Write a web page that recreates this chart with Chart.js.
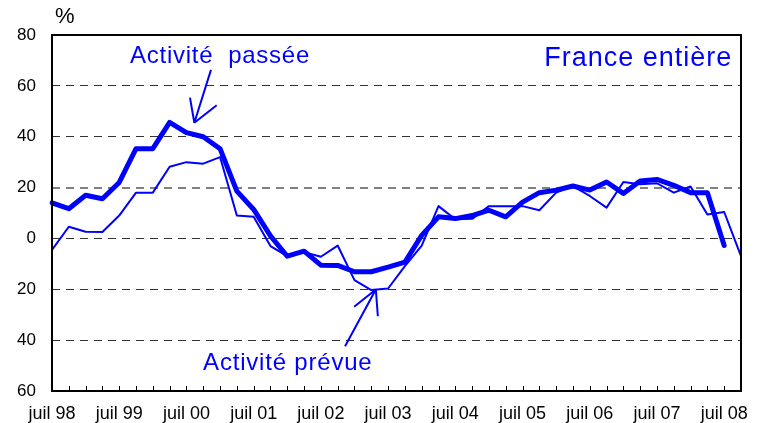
<!DOCTYPE html>
<html>
<head>
<meta charset="utf-8">
<script src="https://cdn.jsdelivr.net/npm/chart.js@4/dist/chart.umd.min.js"></script>
<style>
  html, body { margin: 0; padding: 0; background: #fff; }
  #wrap { width: 763px; height: 423px; position: relative; }
</style>
</head>
<body>
<div id="wrap"><canvas id="chart"></canvas></div>
<script>
// tick labels, one every 4 quarters
var yearLabels = ["juil 98", "juil 99", "juil 00", "juil 01", "juil 02", "juil 03",
    "juil 04", "juil 05", "juil 06", "juil 07", "juil 08"];

// quarterly balances of opinion (%), juil 98 -> oct 08
var activitePassee = [14, 11.7, 17, 15.6, 22, 35.3, 35.3, 45.6, 41.6, 40,
    35.3, 18.6, 11.4, 1, -7, -5, -10.5, -10.6, -13.1, -13.1,
    -11.3, -9.3, 1.2, 8.5, 7.8, 9, 11.1, 8.5, 14.3, 18,
    19, 20.6, 19, 22.2, 17.7, 22.6, 23.2, 20.9, 18, 18,
    -2.8, null];
var activitePrevue = [-4.5, 4.6, 2.6, 2.5, 9, 18, 18, 28.2, 30, 29.4,
    32, 9, 8.5, -3, -7, -5.4, -7.2, -2.8, -16.4, -20.3,
    -19.7, -10.9, -2.8, 12.7, 7.5, 7.7, 12.7, 12.7, 12.7, 11.1,
    18, 20.6, 16.7, 12.1, 22.2, 21.3, 21.7, 18, 20.4, 9.4,
    10.4, -7];

var categories = [];
for (var i = 0; i < activitePrevue.length; i++) {
    categories.push(i % 4 === 0 ? yearLabels[i / 4] : "");
}

var BLUE = "#0000ff";
var FONT = "'Liberation Sans', Arial, sans-serif";

// annotations, in (category index, value) units
var notes = [
    { text: "Activit\u00e9  pass\u00e9e", x: 4.64, y: 68.9, size: 24, spacing: 0.75, align: "left" },
    { text: "France enti\u00e8re", x: 40.48, y: 67.8, size: 27, spacing: 1, align: "right" },
    { text: "Activit\u00e9 pr\u00e9vue", x: 8.99, y: -51.8, size: 24, spacing: 0.8, align: "left" }
];
var arrows = [
    { tail: [9.46, 66.3], tip: [8.47, 45.5], wings: [[8.21, 55.4], [9.80, 52.4]] },
    { tail: [17.44, -42.4], tip: [19.27, -20.1], wings: [[17.98, -26.9], [19.39, -30.6]] }
];

var decorPlugin = {
    id: "decor",
    afterDatasetsDraw: function(chart) {
        var ctx = chart.ctx;
        var a = chart.chartArea;
        var xs = chart.scales.x, ys = chart.scales.y;
        ctx.save();
        // frame
        ctx.strokeStyle = "#000";
        ctx.lineWidth = 2;
        ctx.strokeRect(a.left, a.top, a.right - a.left, a.bottom - a.top);
        // inward ticks on x axis
        ctx.lineWidth = 1;
        for (var i = 0; i < categories.length; i++) {
            var px = Math.round(xs.getPixelForValue(i)) + 0.5;
            ctx.beginPath();
            ctx.moveTo(px, a.bottom);
            ctx.lineTo(px, a.bottom - 5);
            ctx.stroke();
        }
        // % unit
        ctx.fillStyle = "#000";
        ctx.font = "22px " + FONT;
        ctx.textAlign = "left";
        ctx.textBaseline = "alphabetic";
        ctx.fillText("%", a.left + 3, 23);
        // notes
        ctx.fillStyle = BLUE;
        notes.forEach(function(n) {
            ctx.font = n.size + "px " + FONT;
            ctx.letterSpacing = n.spacing + "px";
            ctx.textAlign = n.align;
            ctx.fillText(n.text, xs.getPixelForValue(n.x), ys.getPixelForValue(n.y));
        });
        ctx.letterSpacing = "0px";
        // arrows
        ctx.strokeStyle = BLUE;
        ctx.lineWidth = 2;
        arrows.forEach(function(ar) {
            var tip = [xs.getPixelForValue(ar.tip[0]), ys.getPixelForValue(ar.tip[1])];
            ctx.beginPath();
            ctx.moveTo(xs.getPixelForValue(ar.tail[0]), ys.getPixelForValue(ar.tail[1]));
            ctx.lineTo(tip[0], tip[1]);
            ar.wings.forEach(function(w) {
                ctx.moveTo(xs.getPixelForValue(w[0]), ys.getPixelForValue(w[1]));
                ctx.lineTo(tip[0], tip[1]);
            });
            ctx.stroke();
        });
        ctx.restore();
    }
};

var chart = new Chart(document.getElementById("chart"), {
    type: "line",
    data: {
        labels: categories,
        datasets: [
            {
                label: "Activit\u00e9 pass\u00e9e",
                data: activitePassee,
                borderColor: BLUE,
                borderWidth: 5,
                borderCapStyle: "round",
                borderJoinStyle: "round",
                pointRadius: 0,
                tension: 0,
                fill: false
            },
            {
                label: "Activit\u00e9 pr\u00e9vue",
                data: activitePrevue,
                borderColor: BLUE,
                borderWidth: 2,
                borderJoinStyle: "round",
                pointRadius: 0,
                tension: 0,
                fill: false
            }
        ]
    },
    options: {
        responsive: true,
        maintainAspectRatio: false,
        animation: false,
        layout: { padding: { left: 0, right: 22, top: 35, bottom: 0 } },
        plugins: { legend: { display: false }, tooltip: { enabled: false } },
        scales: {
            x: {
                offset: false,
                grid: { display: false, drawTicks: false },
                border: { display: false },
                ticks: {
                    autoSkip: false,
                    maxRotation: 0,
                    padding: 12,
                    color: "#000",
                    font: { family: FONT, size: 18 }
                },
                afterFit: function(s) { s.height = 32; }
            },
            y: {
                min: -60,
                max: 80,
                grid: {
                    drawTicks: false,
                    lineWidth: function(c) { return c.tick && c.tick.value === 20 ? 2 : 1; },
                    color: function(c) {
                        if (!c.tick) return "#333";
                        var v = c.tick.value;
                        if (v === 80 || v === -60) return "rgba(0,0,0,0)";
                        return v === 20 ? "#808080" : "#333";
                    }
                },
                border: { display: false, dash: [8, 6] },
                ticks: {
                    stepSize: 20,
                    padding: 16,
                    color: "#000",
                    font: { family: FONT, size: 17 },
                    callback: function(v) { return Math.abs(v); }
                },
                afterFit: function(s) { s.width = 52; }
            }
        }
    },
    plugins: [decorPlugin]
});
</script>
</body>
</html>
